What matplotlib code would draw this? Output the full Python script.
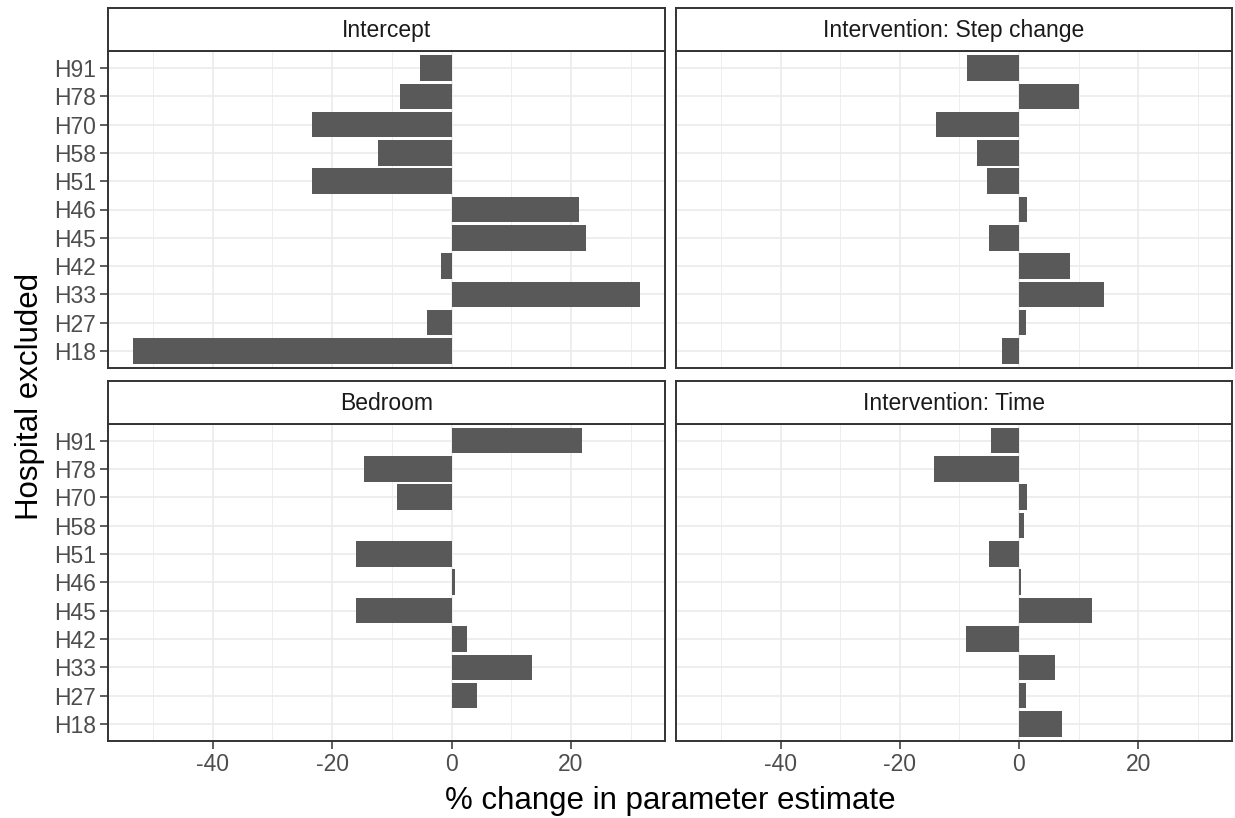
import matplotlib
matplotlib.use("Agg")
import matplotlib.pyplot as plt
from matplotlib.ticker import FixedLocator
import numpy as np

plt.rcParams['font.family'] = ['Liberation Sans', 'DejaVu Sans']

hospitals = ["H18", "H27", "H33", "H42", "H45", "H46", "H51", "H58", "H70", "H78", "H91"]

intercept = [-53.3, -4.2, 31.5, -1.7, 22.5, 21.4, -23.3, -12.3, -23.3, -8.7, -5.3]
step_change = [-2.8, 1.1, 14.2, 8.6, -5.0, 1.4, -5.3, -7.0, -14.0, 10.1, -8.7]
bedroom = [0.0, 4.2, 13.5, 2.5, -16.0, 0.55, -16.0, 0.0, -9.2, -14.6, 21.9]
time_eff = [7.2, 1.1, 6.1, -8.9, 12.3, 0.3, -5.0, 0.8, 1.4, -14.2, -4.7]

panel_titles = ["Intercept", "Intervention: Step change", "Bedroom", "Intervention: Time"]
panel_values = [intercept, step_change, bedroom, time_eff]

x_ticks = [-40, -20, 0, 20]
x_minor = [-50, -30, -10, 10, 30]

W, H = 1235, 818
fig = plt.figure(figsize=(W / 100, H / 100), dpi=100)

all_vals = np.concatenate([np.array(v) for v in panel_values])
vmin, vmax = min(all_vals.min(), 0), max(all_vals.max(), 0)
pad = (vmax - vmin) * 0.05
xlim = (vmin - pad, vmax + pad)

cols = [(108, 665), (676, 1232)]
rows = [((7.5, 51), (51, 368)), ((381, 423.5), (423.5, 741))]

border_col = "#333333"
grid_col = "#EBEBEB"
tick_col = "#4D4D4D"

def fx(px):
    return px / W

def fy(py):
    return 1 - py / H

ypos = np.arange(1, len(hospitals) + 1)

for i, (title, vals) in enumerate(zip(panel_titles, panel_values)):
    r, c = divmod(i, 2)
    (sx0, sx1) = cols[c]
    (st, sb), (pt, pb) = rows[r]
    ax = fig.add_axes([fx(sx0), fy(pb), fx(sx1) - fx(sx0), fy(pt) - fy(pb)])
    ax.barh(ypos, vals, height=0.9, color="#595959", zorder=3)
    ax.set_xlim(*xlim)
    ax.set_ylim(0.4, len(hospitals) + 0.6)
    ax.xaxis.set_major_locator(FixedLocator(x_ticks))
    ax.xaxis.set_minor_locator(FixedLocator(x_minor))
    ax.set_yticks(ypos)
    ax.grid(which="major", color=grid_col, linewidth=1.2, zorder=0)
    ax.grid(which="minor", axis="x", color=grid_col, linewidth=0.6, zorder=0)
    ax.set_axisbelow(True)
    for s in ax.spines.values():
        s.set_color(border_col)
        s.set_linewidth(1.4)
    ax.tick_params(which="minor", length=0)
    ax.tick_params(which="major", color=border_col, width=1.1, length=5.5,
                   labelcolor=tick_col, labelsize=16.5, pad=3)
    if c == 0:
        ax.set_yticklabels(hospitals)
    else:
        ax.tick_params(axis="y", length=0, labelleft=False)
    if r == 1:
        ax.set_xticklabels([str(t) for t in x_ticks])
    else:
        ax.tick_params(axis="x", length=0, labelbottom=False)

    sax = fig.add_axes([fx(sx0), fy(sb), fx(sx1) - fx(sx0), fy(st) - fy(sb)])
    sax.set_xticks([])
    sax.set_yticks([])
    sax.set_facecolor("white")
    for s in sax.spines.values():
        s.set_color(border_col)
        s.set_linewidth(1.4)
    sax.text(0.5, 0.47, title, ha="center", va="center", fontsize=16.5,
             color="#1A1A1A", transform=sax.transAxes)

fig.text(fx((108 + 1232) / 2), fy(801), "% change in parameter estimate",
         ha="center", va="center", fontsize=22.5, color="black")
fig.text(fx(30), fy((51 + 741) / 2), "Hospital excluded", ha="center", va="center",
         rotation=90, fontsize=22.5, color="black")

fig.savefig("out.png", dpi=100, facecolor="white")
